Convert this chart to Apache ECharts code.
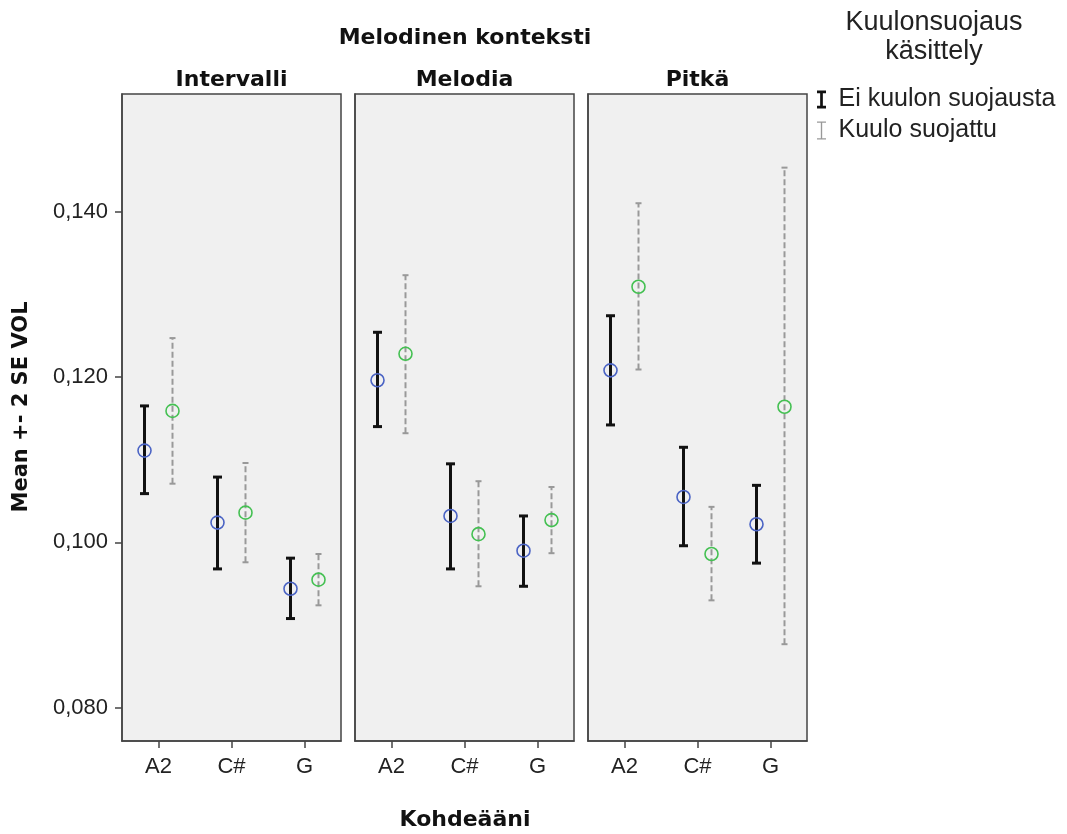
<!DOCTYPE html>
<html>
<head>
<meta charset="utf-8">
<script src="https://cdn.jsdelivr.net/npm/echarts@6/dist/echarts.min.js"></script>
<style>
  html, body { margin: 0; padding: 0; background: #fff; }
  #chart { width: 1067px; height: 834px; }
</style>
</head>
<body>
<div id="chart"></div>
<script>
// data
var categories = ['A2', 'C#', 'G']
var panels = ['Intervalli', 'Melodia', 'Pitkä']
var groups = ['Ei kuulon suojausta', 'Kuulo suojattu']
var yTicks = [0.08, 0.10, 0.12, 0.14]

// Ei kuulon suojausta: mean, lower (-2 SE), upper (+2 SE) per panel
var meanEi = [[0.1111, 0.1024, 0.0944], [0.1196, 0.1032, 0.0990], [0.1208, 0.1055, 0.1022]]
var lowEi = [[0.1059, 0.0968, 0.0908], [0.1140, 0.0968, 0.0947], [0.1142, 0.0996, 0.0975]]
var highEi = [[0.1165, 0.1079, 0.0981], [0.1254, 0.1095, 0.1032], [0.1274, 0.1115, 0.1069]]

// Kuulo suojattu
var meanKuulo = [[0.1159, 0.1036, 0.0955], [0.1228, 0.1010, 0.1027], [0.1309, 0.0986, 0.1164]]
var lowKuulo = [[0.1071, 0.0976, 0.0924], [0.1132, 0.0947, 0.0987], [0.1209, 0.0930, 0.0877]]
var highKuulo = [[0.1247, 0.1096, 0.0986], [0.1323, 0.1074, 0.1067], [0.1410, 0.1043, 0.1453]]

var gridLefts = [122, 355, 588]
var gridTop = 94
var gridW = 219
var gridH = 647
var boldFont = '"DejaVu Sans", sans-serif'
var textFont = '"Liberation Sans", Arial, sans-serif'

function errorBar(offset, style) {
  return function(params, api) {
    var i = api.value(0)
    var c = api.coord([i, api.value(1)])
    var lo = api.coord([i, api.value(2)])
    var hi = api.coord([i, api.value(3)])
    var x = c[0] + offset
    var half = style.cap / 2
    var lineStyle = { stroke: style.color, lineWidth: style.width, lineDash: style.dash }
    var capStyle = { stroke: style.color, lineWidth: style.width }
    return {
      type: 'group',
      children: [
        { type: 'line', shape: { x1: x, y1: lo[1], x2: x, y2: hi[1] }, style: lineStyle },
        { type: 'line', shape: { x1: x - half, y1: hi[1], x2: x + half, y2: hi[1] }, style: capStyle },
        { type: 'line', shape: { x1: x - half, y1: lo[1], x2: x + half, y2: lo[1] }, style: capStyle },
        { type: 'circle', shape: { cx: x, cy: c[1], r: 6.5 }, style: { fill: 'none', stroke: style.marker, lineWidth: 1.6 } }
      ]
    }
  }
}

var styleEi = { color: '#111', width: 3, dash: null, cap: 9, marker: '#4a63c4' }
var styleKuulo = { color: '#999', width: 2, dash: [6, 3], cap: 6, marker: '#44c052' }

var grids = []
var xAxes = []
var yAxes = []
var series = []
var graphics = []

panels.forEach(function(p, k) {
  grids.push({
    left: gridLefts[k], top: gridTop, width: gridW, height: gridH,
    show: true, backgroundColor: '#f0f0f0', borderColor: '#444', borderWidth: 1.5
  })
  xAxes.push({
    type: 'category', gridIndex: k, data: categories,
    axisLine: { show: true, lineStyle: { color: '#444', width: 1.5 } },
    axisTick: { show: true, alignWithLabel: true, length: 7, lineStyle: { color: '#444', width: 1.5 } },
    axisLabel: { fontSize: 22, color: '#222', margin: 15, fontFamily: textFont },
    splitLine: { show: false }
  })
  yAxes.push({
    type: 'value', gridIndex: k, min: 0.076, max: 0.1542,
    axisLine: { show: true, lineStyle: { color: '#444', width: 1.5 } },
    axisTick: { show: k === 0, length: 7, customValues: yTicks, lineStyle: { color: '#444', width: 1.5 } },
    axisLabel: {
      show: k === 0, fontSize: 22, color: '#222', margin: 14, fontFamily: textFont,
      customValues: yTicks,
      formatter: function(v) { return v.toFixed(3).replace('.', ',') }
    },
    splitLine: { show: false }
  })
  series.push({
    name: groups[0], type: 'custom', xAxisIndex: k, yAxisIndex: k,
    itemStyle: { color: '#111' },
    renderItem: errorBar(-14, styleEi),
    data: categories.map(function(c, i) { return [i, meanEi[k][i], lowEi[k][i], highEi[k][i]] })
  })
  series.push({
    name: groups[1], type: 'custom', xAxisIndex: k, yAxisIndex: k,
    itemStyle: { color: '#999' },
    renderItem: errorBar(14, styleKuulo),
    data: categories.map(function(c, i) { return [i, meanKuulo[k][i], lowKuulo[k][i], highKuulo[k][i]] })
  })
  graphics.push({
    type: 'text', x: gridLefts[k] + gridW / 2, y: 80,
    style: { text: p, font: 'bold 22px ' + boldFont, fill: '#111', textAlign: 'center', textVerticalAlign: 'middle' }
  })
})

graphics.push({
  type: 'text', x: 465, y: 38,
  style: { text: 'Melodinen konteksti', font: 'bold 22px ' + boldFont, fill: '#111', textAlign: 'center', textVerticalAlign: 'middle' }
})
graphics.push({
  type: 'text', x: 465, y: 820,
  style: { text: 'Kohdeääni', font: 'bold 22px ' + boldFont, fill: '#111', textAlign: 'center', textVerticalAlign: 'middle' }
})
graphics.push({
  type: 'text', x: 22, y: 407, rotation: Math.PI / 2,
  style: { text: 'Mean +- 2 SE VOL', font: 'bold 21px ' + boldFont, fill: '#111', textAlign: 'center', textVerticalAlign: 'middle' }
})
graphics.push({
  type: 'text', x: 934, y: 37,
  style: { text: 'Kuulonsuojaus\nkäsittely', font: '27px ' + textFont, lineHeight: 29, fill: '#222', textAlign: 'center', textVerticalAlign: 'middle' }
})

var chart = echarts.init(document.getElementById('chart'), null, { renderer: 'canvas' })
chart.setOption({
  animation: false,
  backgroundColor: '#fff',
  grid: grids,
  xAxis: xAxes,
  yAxis: yAxes,
  legend: {
    orient: 'vertical', left: 812, top: 82, itemGap: 6,
    itemWidth: 10, itemHeight: 18,
    selectedMode: false,
    textStyle: { fontSize: 25, color: '#222', fontFamily: textFont, lineHeight: 25, padding: [0, 0, 0, 7] },
    data: [
      { name: groups[0], icon: 'path://M0,0H10V3H6.5V17H10V20H0V17H3.5V3H0Z' },
      { name: groups[1], icon: 'path://M0,0H10V1.5H5.75V18.5H10V20H0V18.5H4.25V1.5H0Z' }
    ]
  },
  graphic: graphics,
  series: series
})
</script>
</body>
</html>
